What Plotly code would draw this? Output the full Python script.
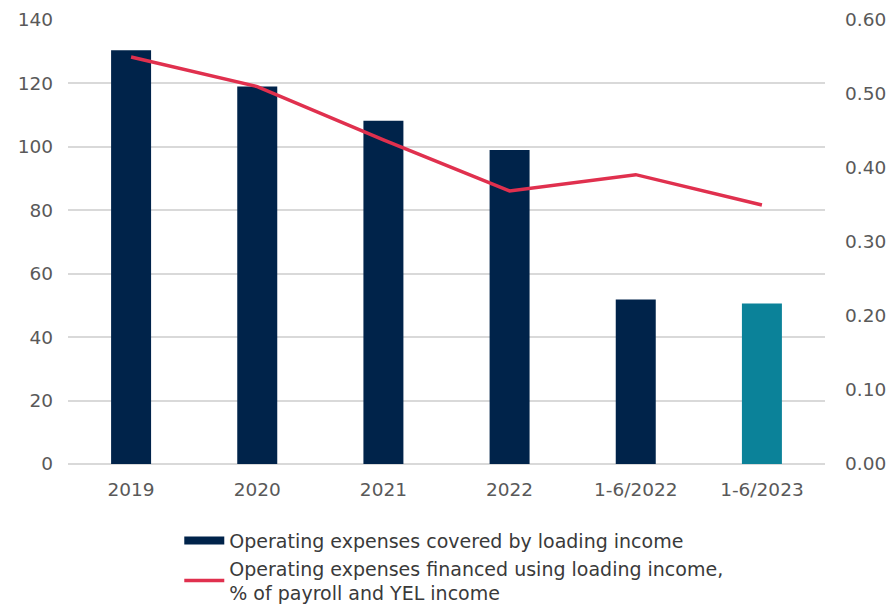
import plotly.graph_objects as go

categories = ["2019", "2020", "2021", "2022", "1-6/2022", "1-6/2023"]
expenses = [130.5, 119.0, 108.2, 99.0, 51.9, 50.6]
share = [0.55, 0.51, 0.438, 0.369, 0.391, 0.35]
bar_colors = ["#00234a", "#00234a", "#00234a", "#00234a", "#00234a", "#0b8299"]
bar_name = "Operating expenses covered by loading income"
line_name = "Operating expenses financed using loading income,<br>% of payroll and YEL income"

fig = go.Figure()
fig.add_trace(go.Bar(
    x=categories, y=expenses, marker=dict(color=bar_colors, line=dict(width=0)),
    width=0.317, name=bar_name, yaxis="y", showlegend=False,
))
# legend-only entry drawn as a wide bar swatch (as in the reference)
fig.add_trace(go.Scatter(
    x=[None], y=[None], mode="lines", line=dict(color="#00234a", width=8),
    name=bar_name, yaxis="y",
))
fig.add_trace(go.Scatter(
    x=categories, y=share, mode="lines", line=dict(color="#e0304e", width=3.5),
    name=line_name, yaxis="y2",
))

tick_font = dict(family="DejaVu Sans, Liberation Sans, sans-serif", size=18.5, color="#595959")
fig.update_layout(
    width=890, height=604,
    margin=dict(l=68, r=65, t=20, b=140, autoexpand=False),
    paper_bgcolor="white", plot_bgcolor="white",
    font=tick_font,
    showlegend=True,
    legend=dict(
        orientation="v",
        x=0.147, y=-0.13, xanchor="left", yanchor="top",
        font=dict(family="DejaVu Sans, Liberation Sans, sans-serif", size=19, color="#3a3a3a"),
        tracegroupgap=0, itemwidth=40, bgcolor="rgba(0,0,0,0)",
    ),
    xaxis=dict(showgrid=False, showline=False, ticks="", tickfont=tick_font, tickangle=0,
               ticklabelstandoff=12),
    yaxis=dict(range=[0, 140], dtick=20, showgrid=True, gridcolor="#d9d9d9",
               gridwidth=1.5, zeroline=True, zerolinecolor="#d9d9d9", zerolinewidth=1.5,
               tickfont=tick_font, ticks="", ticklabelstandoff=14),
    yaxis2=dict(range=[0, 0.6], dtick=0.1, tickformat=".2f", overlaying="y",
                side="right", showgrid=False, zeroline=False, tickfont=tick_font,
                ticks="", ticklabelstandoff=19),
)

fig.write_html("out.html", config={"displayModeBar": False},
               post_script="document.body.style.margin='0px';")
